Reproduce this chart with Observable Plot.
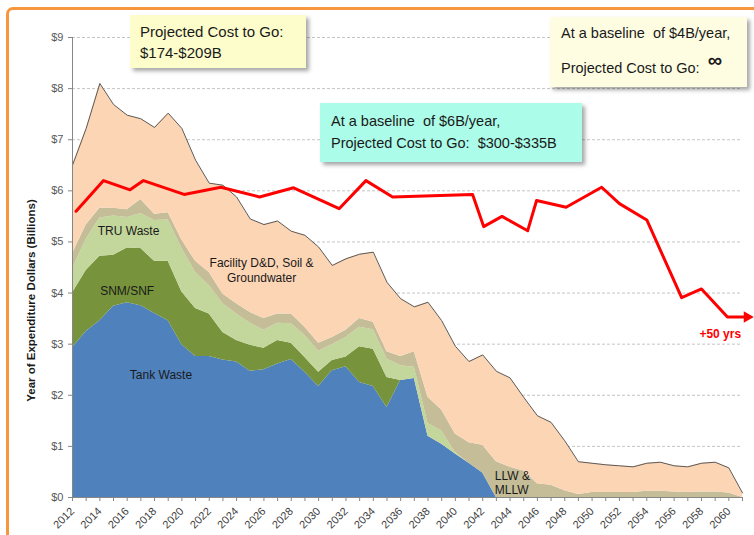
<!DOCTYPE html>
<html>
<head>
<meta charset="utf-8">
<script src="https://cdn.jsdelivr.net/npm/d3@7"></script>
<script src="https://cdn.jsdelivr.net/npm/@observablehq/plot@0.6"></script>
<style>
  html, body { margin: 0; padding: 0; background: #fff; }
  #wrap { position: relative; width: 754px; height: 535px; overflow: hidden; font-family: Arial, "Liberation Sans", sans-serif; }
  #wrap svg { position: absolute; left: 0; top: 0; }
  .frame { position: absolute; left: 6px; top: 7px; width: 820px; height: 540px; border: 3px solid #f7963c; border-radius: 7px; box-sizing: border-box; pointer-events: none; }
  .box { position: absolute; box-sizing: border-box; color: #1a1a1a; font-family: Arial, "Liberation Sans", sans-serif; box-shadow: 3px 3px 4px rgba(0,0,0,0.35); white-space: nowrap; }
  #box1 { left: 130px; top: 15px; width: 176px; height: 53px; background: #fdfdcc; font-size: 15px; line-height: 21px; padding: 6px 0 0 10px; }
  #box2 { left: 550px; top: 17px; width: 197px; height: 70px; background: #fefde2; font-size: 14.5px; line-height: 33px; padding: 0 0 0 11px; }
  #box3 { left: 320px; top: 103px; width: 262px; height: 59px; background: #abfce8; font-size: 14.5px; line-height: 22px; padding: 7px 0 0 11px; }
  .inf { font-size: 20px; font-weight: bold; position: relative; top: -6px; }
</style>
</head>
<body>
<div id="wrap"></div>
<script>
// ---- data ----
const years = d3.range(2012, 2062);
const layers = ["Tank Waste", "SNM/SNF", "TRU Waste", "LLW & MLLW", "Facility D&D, Soil & Groundwater"];

const tank = [2.93,3.25,3.46,3.74,3.81,3.75,3.60,3.46,2.99,2.76,
              2.76,2.69,2.65,2.47,2.50,2.61,2.70,2.45,2.17,2.48,
              2.56,2.25,2.17,1.76,2.29,2.33,1.20,1.04,0.85,0.67,
              0.48,0,0,0,0,0,0,0,0,0,
              0,0,0,0,0,0,0,0,0,0];
const snm = [1.07,1.19,1.26,1.00,1.07,1.12,1.02,1.16,1.03,0.94,
             0.83,0.54,0.42,0.51,0.42,0.46,0.32,0.29,0.28,0.20,
             0.19,0.70,0.73,0.59,0,0,0,0,0,0,
             0,0,0,0,0,0,0,0,0,0,
             0,0,0,0,0,0,0,0,0,0];
const tru = [0.47,0.61,0.75,0.77,0.60,0.68,0.80,0.81,0.85,0.70,
             0.56,0.56,0.52,0.43,0.35,0.34,0.38,0.43,0.41,0.31,
             0.38,0.38,0.38,0.36,0.29,0.22,0.25,0.26,0.03,0,
             0,0,0,0,0,0,0,0,0,0,
             0,0,0,0,0,0,0,0,0,0];
const llw = [0.30,0.28,0.19,0.15,0.15,0.28,0.12,0.14,0.17,0.22,
             0.25,0.19,0.20,0.21,0.23,0.18,0.19,0.16,0.16,0.14,
             0.14,0.17,0.15,0.14,0.18,0.30,0.51,0.41,0.36,0.40,
             0.54,0.70,0.59,0.52,0.27,0.24,0.13,0.06,0.10,0.10,
             0.10,0.10,0.12,0.12,0.11,0.10,0.11,0.11,0.09,0.00];
const facility = [1.73,1.89,2.44,2.03,1.85,1.58,1.70,1.95,2.18,1.98,
                  1.75,2.13,2.09,1.83,1.84,1.82,1.62,1.80,1.88,1.41,
                  1.40,1.26,1.37,1.36,1.13,0.88,1.86,1.75,1.72,1.59,
                  1.77,1.77,1.75,1.44,1.33,1.23,0.98,0.64,0.57,0.54,
                  0.52,0.50,0.55,0.57,0.51,0.50,0.56,0.58,0.49,0.09];

// $6B/year baseline line (red)
const baselineYears  = [2012.26,2014.27,2016.21,2017.19,2020.16,2022.85,2025.68,2028.17,2031.5,2033.46,
                        2035.41,2041.26,2042.07,2043.41,2045.29,2045.94,2048.1,2050.7,2052.0,2054.0,
                        2056.55,2058.0,2059.9,2061.08];
const baselineValues = [5.60,6.20,6.02,6.20,5.93,6.07,5.88,6.06,5.65,6.20,
                        5.88,5.93,5.30,5.50,5.22,5.81,5.68,6.07,5.75,5.43,
                        3.91,4.08,3.53,3.53];

const yTicks = d3.range(0, 10);
const colors = ["#4f81bd", "#77933c", "#c3d69b", "#c4bd97", "#fcd5b5"];

// ---- derived tables ----
const series = [tank, snm, tru, llw, facility];
const rows = layers.flatMap((name, k) => years.map((year, i) => ({year, layer: name, value: series[k][i]})));
const totals = years.map((y, i) => ({year: y, total: d3.sum(series, s => s[i])}));
const baseline = baselineYears.map((x, i) => ({x, y: baselineValues[i]}));

const font = "Arial, 'Liberation Sans', sans-serif";

const chart = Plot.plot({
  width: 754,
  height: 535,
  marginLeft: 72,
  marginRight: 12,
  marginTop: 37,
  marginBottom: 38,
  style: {fontFamily: font, fontSize: "11px", background: "transparent", overflow: "visible"},
  x: {domain: [2012, 2061], label: null},
  y: {domain: [0, 9], label: null},
  color: {domain: layers, range: colors},
  marks: [
    Plot.gridY({ticks: d3.range(1, 10), stroke: "#c4c4c4", strokeOpacity: 1, strokeDasharray: "3,2"}),
    Plot.areaY(rows, {x: "year", y: "value", fill: "layer"}),
    Plot.line(totals, {x: "year", y: "total", stroke: "#5a5a5a", strokeWidth: 1}),
    Plot.ruleX([2012], {stroke: "#868686"}),
    Plot.ruleY([0], {stroke: "#868686"}),
    Plot.axisY({ticks: yTicks, tickFormat: d => "$" + d, tickSize: 4, tickPadding: 5, stroke: "#868686", fill: "#595959", fontSize: 11, label: null}),
    Plot.axisX({ticks: years, tickFormat: d => d % 2 === 0 ? String(d) : "", tickRotate: -45, tickSize: 4, stroke: "#868686", fill: "#404040", fontSize: 11, label: null}),
    Plot.text(["Year of Expenditure Dollars (Billions)"], {frameAnchor: "left", textAnchor: "middle", dx: -41, dy: 33, rotate: -90, text: d => d, fontWeight: "bold", fontSize: 11.5, fill: "#1a1a1a"}),
    Plot.line(baseline, {x: "x", y: "y", stroke: "#ff0000", strokeWidth: 3}),
    Plot.dot(baseline.slice(-1), {x: "x", y: "y", symbol: "triangle", rotate: 90, r: 4.3, fill: "#ff0000", stroke: "none", dx: 3.5}),
    Plot.text(["+50 yrs"], {x: 2060.9, y: 3.2, text: d => d, textAnchor: "end", fill: "#ff0000", fontWeight: "bold", fontSize: 12}),
    Plot.text(["TRU Waste"], {x: 2016.1, y: 5.21, text: d => d, fill: "#1a1a1a", fontSize: 12}),
    Plot.text(["SNM/SNF"], {x: 2016.0, y: 4.04, text: d => d, fill: "#1a1a1a", fontSize: 12}),
    Plot.text(["Tank Waste"], {x: 2018.47, y: 2.40, text: d => d, fill: "#1a1a1a", fontSize: 12}),
    Plot.text(["Facility D&D, Soil &\nGroundwater"], {x: 2025.83, y: 4.46, text: d => d, fill: "#1a1a1a", fontSize: 12, lineHeight: 1.25}),
    Plot.text(["LLW &\nMLLW"], {x: 2042.89, y: 0.29, text: d => d, textAnchor: "start", fill: "#1a1a1a", fontSize: 12, lineHeight: 1.2})
  ]
});

const wrap = document.getElementById("wrap");
wrap.appendChild(chart);
wrap.insertAdjacentHTML("beforeend", `
  <div class="frame"></div>
  <div class="box" id="box1">Projected Cost to Go:<br>$174-$209B</div>
  <div class="box" id="box2">At a baseline&nbsp; of $4B/year,<br>Projected Cost to Go:&nbsp; <span class="inf">∞</span></div>
  <div class="box" id="box3">At a baseline&nbsp; of $6B/year,<br>Projected Cost to Go:&nbsp; $300-$335B</div>
`);
</script>
</body>
</html>
